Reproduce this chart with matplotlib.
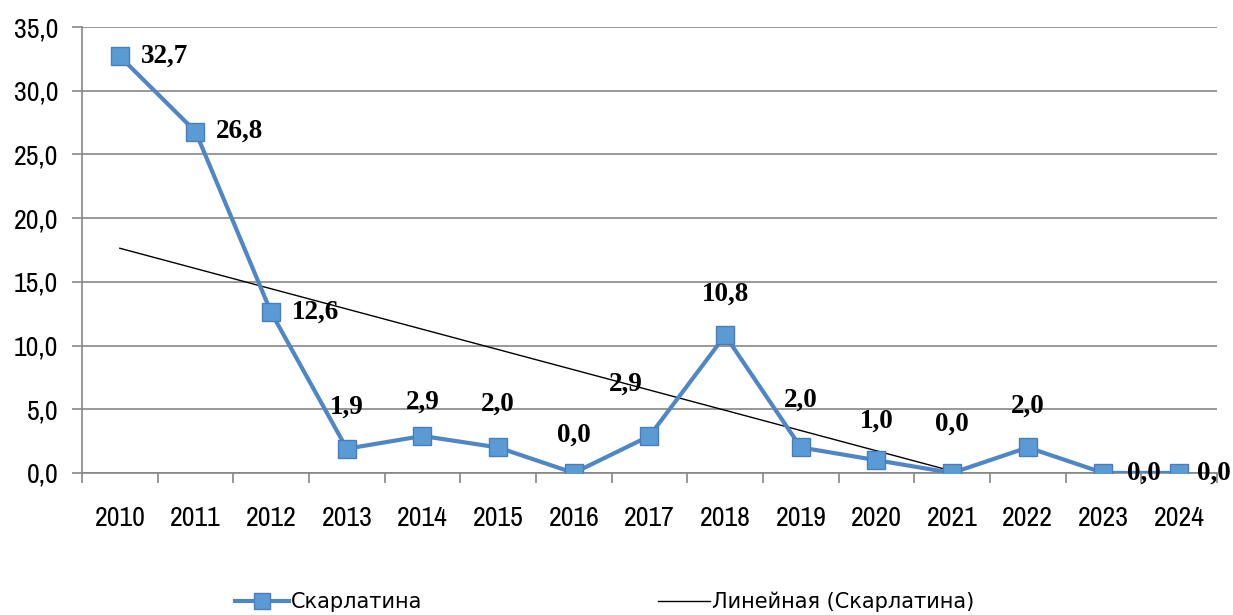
import numpy as np
import matplotlib
matplotlib.use("Agg")
import matplotlib.pyplot as plt
from matplotlib import font_manager as fm

years = [str(y) for y in range(2010, 2025)]
values = [32.7, 26.8, 12.6, 1.9, 2.9, 2.0, 0.0, 2.9, 10.8, 2.0, 1.0, 0.0, 2.0, 0.0, 0.0]
yticks = [0, 5, 10, 15, 20, 25, 30, 35]
series_name = "Скарлатина"
trend_name = "Линейная (Скарлатина)"


def has_cyr(path):
    try:
        f = fm.get_font(path)
        return all(f.get_char_index(ord(c)) != 0 for c in "СкЛй")
    except Exception:
        return False


narrow_fonts = [f for f in fm.fontManager.ttflist
                if ("Narrow" in f.name or "Condensed" in f.name
                    or f.stretch in ("condensed", "semi-condensed", 400))]
narrow_cyr = sorted({f.name for f in narrow_fonts if has_cyr(f.fname)})
narrow_any = sorted({f.name for f in narrow_fonts})
tick_family = [narrow_any[0]] if narrow_any else ["Roboto"]
tick_family = tick_family + ["Roboto", "DejaVu Sans"]
leg_family = ([narrow_cyr[0]] if narrow_cyr else ["Roboto"]) + ["DejaVu Sans"]
serif = "Liberation Serif"

fig = plt.figure(figsize=(12.33, 6.15), dpi=100)
ax = fig.add_axes([0.0665, 0.231, 0.9205, 0.725])

x = np.arange(len(values))
h1, = ax.plot(x, values, color="#4F86C6", lw=3, marker="s", markersize=13,
              markerfacecolor="#5B9BD5", markeredgecolor="#4A7EBB",
              markeredgewidth=1, zorder=3, label=series_name)

# linear trend, drawn until it reaches the axis minimum
k, b = np.polyfit(x, values, 1)
x_end = -b / k
tx = np.array([0, x_end])
h2, = ax.plot(tx, k * tx + b, color="black", lw=1, zorder=2, label=trend_name)

# data labels (offsets in points)
offsets = {0: (15, 0, "left"), 1: (15, 0, "left"), 2: (15, 0, "left"),
           3: (0, 30, "center"), 4: (0, 24, "center"), 5: (0, 31, "center"),
           6: (0, 27, "center"), 7: (-17, 37, "center"), 8: (0, 30, "center"),
           9: (0, 34, "center"), 10: (0, 28, "center"), 11: (0, 35, "center"),
           12: (0, 30, "center"), 13: (17, 0, "left"), 14: (13, 0, "left")}
for i, v in enumerate(values):
    dx, dy, ha = offsets[i]
    ax.annotate(f"{v:.1f}".replace(".", ","), (x[i], v), xytext=(dx, dy),
                textcoords="offset points", ha=ha, va="center",
                fontsize=19.5, fontweight="bold", family=serif, zorder=5)

ax.set_xlim(-0.5, len(values) - 0.5)
ax.set_ylim(0, 35)
ax.set_yticks(yticks)
ax.set_yticklabels([f"{t:.1f}".replace(".", ",") for t in yticks],
                   fontsize=20, family=tick_family)
ax.set_xticks(x)
ax.set_xticklabels(years, fontsize=20, family=tick_family)
ax.set_xticks(np.arange(-0.5, len(values)), minor=True)
ax.tick_params(axis="x", which="major", length=0, pad=24)
ax.tick_params(axis="x", which="minor", length=7, color="#868686", width=1.2)
ax.tick_params(axis="y", length=7, color="#868686", width=1.2, pad=10)

ax.grid(axis="y", color="#868686", lw=1.2)
ax.set_axisbelow(True)
for s in ["top", "right"]:
    ax.spines[s].set_visible(False)
for s in ["left", "bottom"]:
    ax.spines[s].set_color("#868686")
    ax.spines[s].set_linewidth(1.2)

common = dict(loc="center left", frameon=False,
              prop={"family": leg_family, "size": 15},
              handletextpad=0.1, borderpad=0, borderaxespad=0,
              markerscale=0.85)
leg1 = fig.legend(handles=[h1], bbox_to_anchor=(235 / 1233, 13 / 615),
                  handlelength=2.6, **common)
leg2 = fig.legend(handles=[h2], bbox_to_anchor=(658 / 1233, 13 / 615),
                  handlelength=2.5, **common)

fig.savefig("out.png", dpi=100)
